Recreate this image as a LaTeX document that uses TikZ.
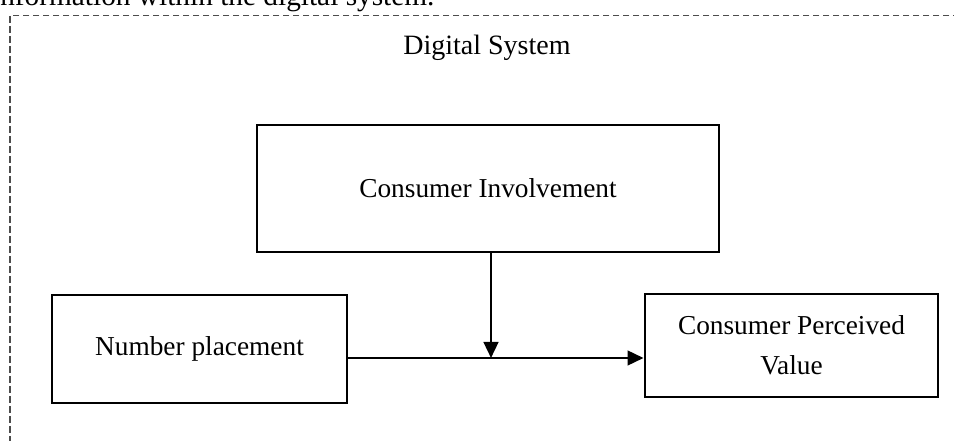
\documentclass[tikz,border=0pt]{standalone}
\usepackage{fontspec}
\setmainfont{Liberation Serif}
\usetikzlibrary{positioning, arrows.meta}

\begin{document}
\begin{tikzpicture}[
        x=0.75pt, y=-0.75pt,
        box/.style={draw, line width=2.2pt, rectangle, align=center, inner sep=0pt, font=\fontsize{20.5}{30}\selectfont},
        frame/.style={draw=black!70, line width=0.8pt, dash pattern=on 5pt off 2.5pt, rectangle, inner sep=0pt},
        arrow/.style={line width=1.8pt, -{Triangle[length=12pt, width=11pt]}}
    ]
    \useasboundingbox (0,0) rectangle (954,441);
    \clip (0,0) rectangle (954,441);

    % Textzeile oben (abgeschnitten)
    \node[anchor=base west, inner sep=0pt, font=\fontsize{22}{26}\selectfont] (caption) at (0,6) {nformation within the digital system.};

    % Gestrichelter Rahmen
    \node[frame, minimum width=720pt, minimum height=337pt] (system) at (490,240) {};
    \node[anchor=base, inner sep=0pt, font=\fontsize{21}{26}\selectfont] (systemlabel) at (487,55) {Digital System};

    % Boxen
    \node[box, minimum width=346.5pt, minimum height=95.25pt] (involvement) at (488,188.5) {Consumer Involvement};
    \node[box, minimum width=221.25pt, minimum height=81pt] (placement) at (199.5,349) {Number placement};
    \node[box, minimum width=219.75pt, minimum height=77.25pt] (value) at (791.5,345.5) {Consumer Perceived\\Value};

    % Pfeile
    \coordinate (joint) at (491,358);
    \draw[arrow] (placement.east |- joint) -- (value.west |- joint);
    \draw[arrow] (involvement.south -| joint) -- (joint);
\end{tikzpicture}
\end{document}
